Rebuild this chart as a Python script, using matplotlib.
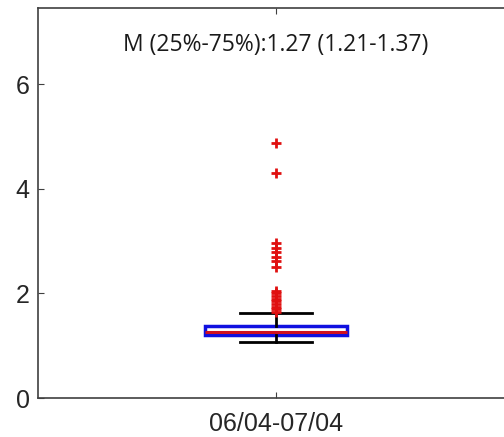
import matplotlib
matplotlib.use("Agg")
import matplotlib.pyplot as plt

# values
label = "06/04-07/04"
median = 1.27
q1 = 1.21
q3 = 1.37
whisker_low = 1.07
whisker_high = 1.62
outliers = [1.65, 1.70, 1.75, 1.80, 1.85, 1.90, 1.95, 2.00, 2.05,
            2.51, 2.62, 2.70, 2.80, 2.87, 2.96, 4.30, 4.88]
title_text = "M (25%-75%):1.27 (1.21-1.37)"

fig = plt.figure(figsize=(5.04, 4.37), dpi=100)
ax = fig.add_axes([38/504, 39/437, 476/504, 390/437])

stats = [dict(med=median, q1=q1, q3=q3, whislo=whisker_low,
              whishi=whisker_high, fliers=outliers, label=label)]
ax.bxp(stats, positions=[1], widths=0.3, capwidths=0.15, patch_artist=True,
       boxprops=dict(facecolor="white", edgecolor="#1010e0", linewidth=2.5),
       medianprops=dict(color="#d01020", linewidth=2.2),
       whiskerprops=dict(color="black", linewidth=2),
       capprops=dict(color="black", linewidth=2),
       flierprops=dict(marker="+", markeredgecolor="#e01010",
                       markersize=6.5, markeredgewidth=2, linestyle="none"))

ax.set_xlim(0.5, 1.5)
ax.set_ylim(0, 7.46)
ax.set_yticks([0, 2, 4, 6])
ax.set_xticks([1])
ax.set_xticklabels([label])
ax.tick_params(direction="in", length=4, width=0.8, color="#404040",
               labelsize=18, labelcolor="#262626", top=True)
ax.tick_params(axis="x", pad=10)
ax.tick_params(axis="y", pad=6)
for side in ["left", "bottom", "top"]:
    ax.spines[side].set_color("#404040")
    ax.spines[side].set_linewidth(1.2)
ax.spines["right"].set_visible(False)
for t in ax.get_xticklabels() + ax.get_yticklabels():
    t.set_family("Liberation Sans")

ax.text(1.0, 6.75, title_text, ha="center", va="center",
        fontsize=16.5, family="Open Sans", color="#1a1a1a")

fig.savefig("out.png", dpi=100)
